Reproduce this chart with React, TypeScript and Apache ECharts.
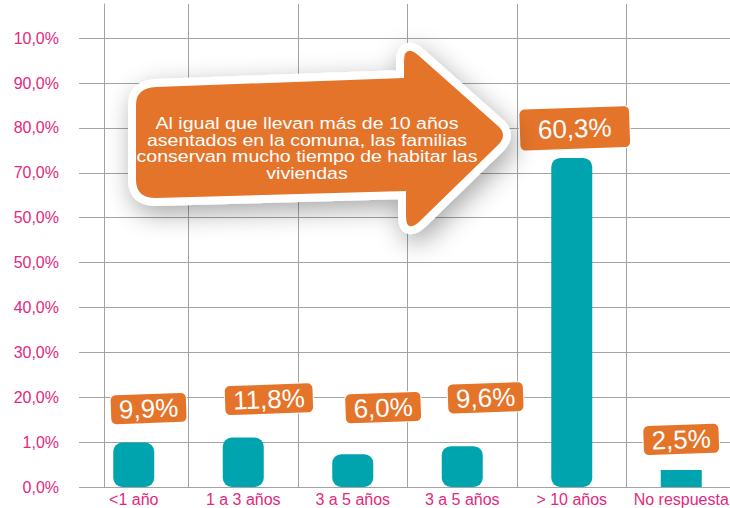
import React, { useEffect, useRef } from "react";
import * as echarts from "echarts";

const categories = ["<1 año", "1 a 3 años", "3 a 5 años", "3 a 5 años", "> 10 años", "No respuesta"];
const barValues = [9.9, 11.0, 7.3, 9.1, 73.3, 3.8];
const valueLabels = ["9,9%", "11,8%", "6,0%", "9,6%", "60,3%", "2,5%"];
const yTickLabels = ["0,0%", "1,0%", "20,0%", "30,0%", "40,0%", "50,0%", "50,0%", "70,0%", "80,0%", "90,0%", "10,0%"];
const calloutLines = [
  "Al igual que llevan más de 10 años",
  "asentados en la comuna, las familias",
  "conservan mucho tiempo de habitar las",
  "viviendas",
];

// styling only
const labelOffsets = [[16, -19], [27, -23], [32, -31], [25, -33], [4, -9], [1, -16]];
const labelPaddings = [[1, 8], [1, 8], [1, 8], [1, 8], [7, 18], [1, 8]];

const PINK = "#e2297c";
const TEAL = "#00a4ae";
const ORANGE = "#e5742b";
const GRID = "#a3a3a3";
const FONT = '"Liberation Sans", Arial, Helvetica, sans-serif';

const ARROW_D =
  "M 156 87 L 404 78 L 404 62 Q 404 44 418 55 L 498 126 Q 508 135 498 145 L 419 222 Q 406 233 406 216 L 406 191 L 156 198 Q 136 198 136 180 L 136 105 Q 136 88 156 87 Z";

let registered = false;
function ensureShape() {
  if (registered) return;
  echarts.graphic.registerShape("calloutArrow", echarts.graphic.extendPath(ARROW_D, {}));
  registered = true;
}

export default function App() {
  const ref = useRef<HTMLDivElement>(null);
  useEffect(() => {
    if (!ref.current) return;
    ensureShape();
    const chart = echarts.init(ref.current, undefined, { renderer: "svg" });
    chart.setOption({
      animation: false,
      backgroundColor: "#ffffff",
      grid: { left: 79, width: 657, top: 4, bottom: 21, containLabel: false, outerBoundsMode: "none" },
      xAxis: {
        type: "category",
        data: categories,
        boundaryGap: true,
        axisLine: { show: false },
        axisTick: { show: false },
        axisLabel: { color: PINK, fontSize: 16, fontFamily: FONT, margin: 4, interval: 0, hideOverlap: false },
        splitLine: { show: true, showMinLine: false, lineStyle: { color: GRID, width: 1 } },
      },
      yAxis: {
        type: "value",
        min: 0,
        max: 107.6,
        interval: 10,
        offset: -25,
        axisLine: { show: true, lineStyle: { color: GRID, width: 1 } },
        axisTick: { show: false },
        axisLabel: {
          color: PINK,
          fontSize: 16,
          fontFamily: FONT,
          margin: 45,
          showMaxLabel: false,
          formatter: (v: number) => {
            const i = Math.round(v / 10);
            return Math.abs(v - i * 10) < 1e-6 && i < yTickLabels.length ? yTickLabels[i] : "";
          },
        },
        splitLine: { show: true, showMaxLine: false, lineStyle: { color: GRID, width: 1 } },
      },
      series: [
        {
          type: "bar",
          barWidth: 41,
          data: barValues.map((v, i) => ({
            value: v,
            itemStyle: { color: TEAL, borderRadius: i === 5 ? 0 : 9 },
            label: {
              show: true,
              position: "top",
              distance: 0,
              formatter: valueLabels[i],
              offset: labelOffsets[i],
              padding: labelPaddings[i],
              color: "#ffffff",
              fontSize: 26,
              lineHeight: 27,
              fontFamily: FONT,
              backgroundColor: ORANGE,
              borderRadius: 5,
              borderColor: "#ffffff",
              borderWidth: 1,
              rotate: 2,
            },
          })),
        },
      ],
      graphic: [
        {
          type: "calloutArrow",
          z: 100,
          x: 0,
          y: 0,
          style: {
            fill: "#ffffff",
            stroke: "#ffffff",
            lineWidth: 16,
            lineJoin: "round",
            shadowBlur: 26,
            shadowColor: "rgba(0,0,0,0.35)",
            shadowOffsetX: 4,
            shadowOffsetY: 8,
          },
        },
        {
          type: "calloutArrow",
          z: 101,
          x: 0,
          y: 0,
          style: { fill: ORANGE },
        },
        {
          type: "text",
          z: 102,
          x: 307,
          y: 148,
          scaleX: 1.15,
          style: {
            text: calloutLines.join("\n"),
            fill: "#ffffff",
            fontSize: 17,
            fontFamily: FONT,
            lineHeight: 16.5,
            align: "center",
            verticalAlign: "middle",
          },
        },
      ],
    });
    return () => chart.dispose();
  }, []);
  return (
    <div
      ref={ref}
      style={{ position: "absolute", left: 0, top: 0, width: 730, height: 508 }}
    />
  );
}
